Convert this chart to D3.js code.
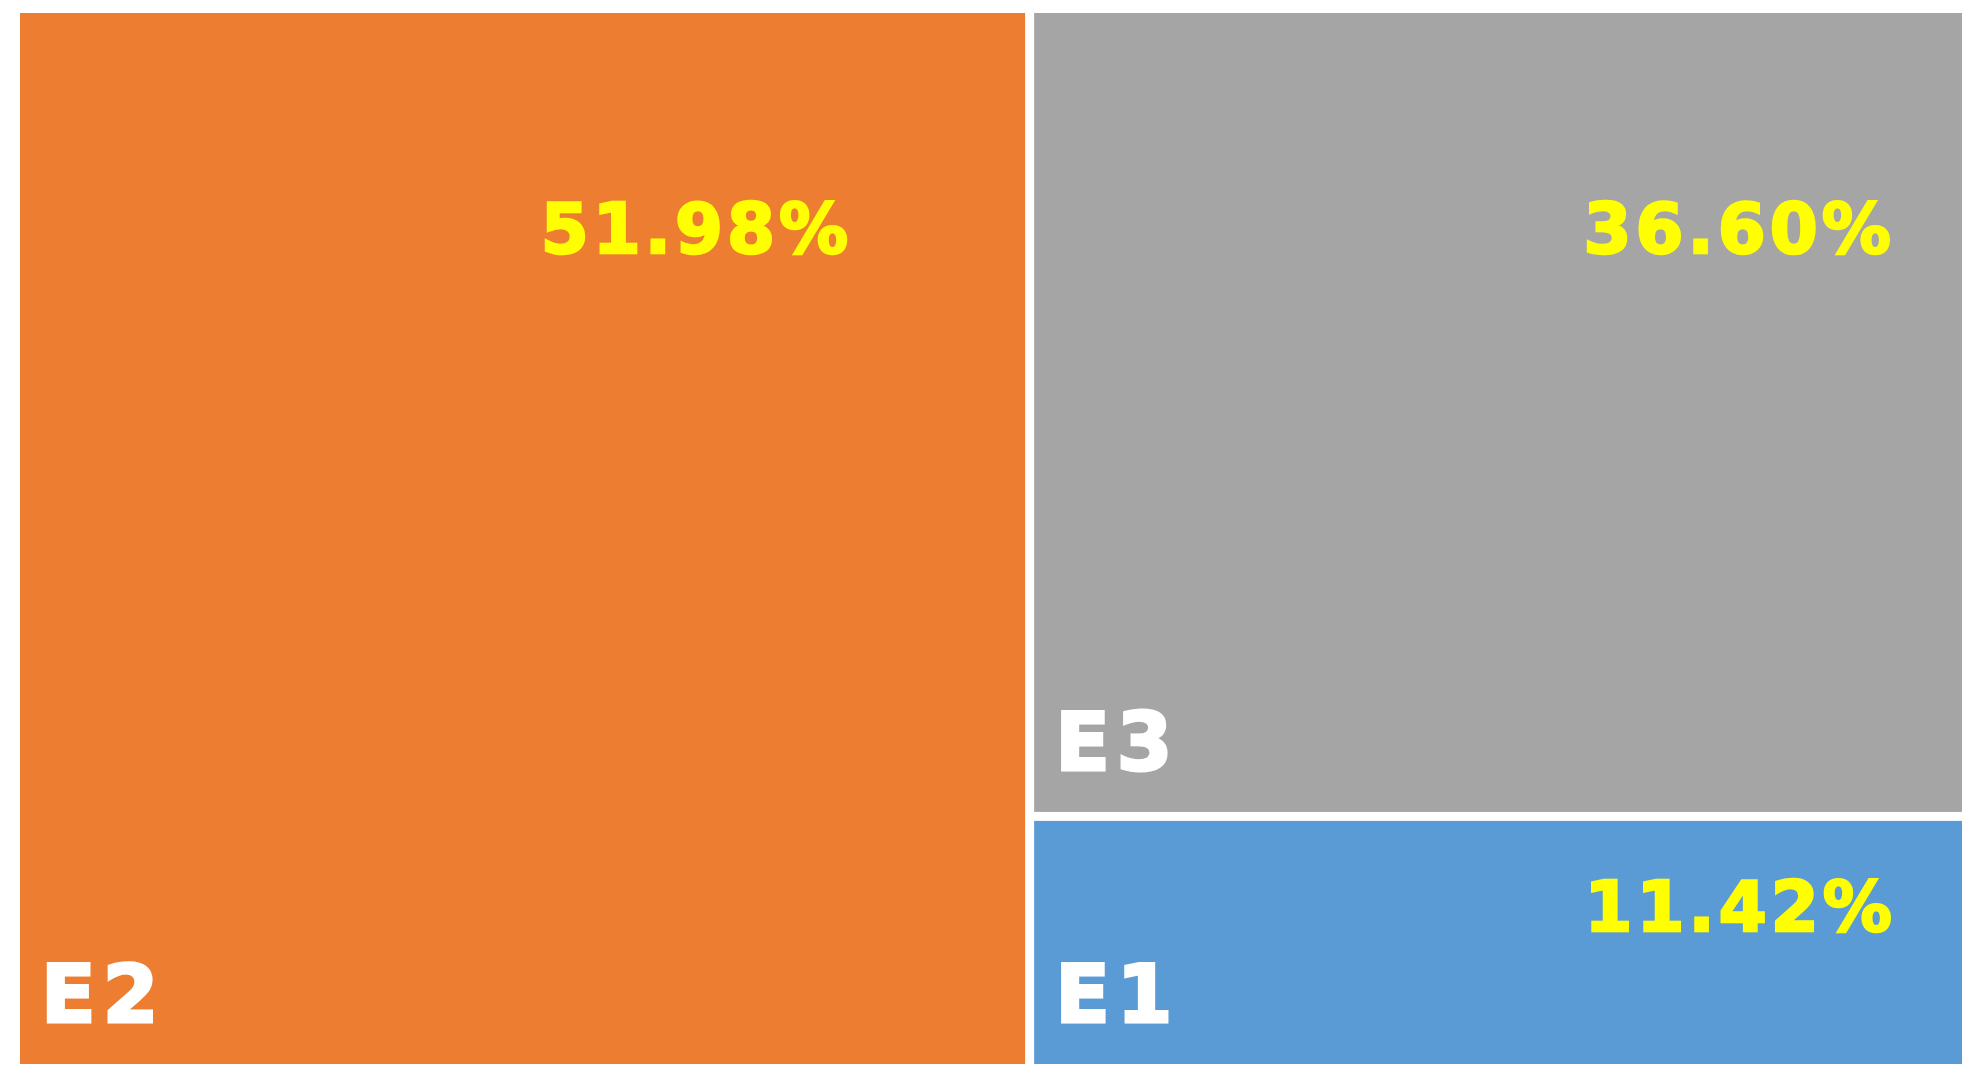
<!DOCTYPE html>
<html>
<head>
<meta charset="utf-8">
<script src="https://cdn.jsdelivr.net/npm/d3@7"></script>
<style>
  html, body { margin: 0; padding: 0; background: #fff; }
  .name { fill: #fff; stroke: #fff; stroke-width: 3px; stroke-linejoin: miter; font-family: "DejaVu Sans", sans-serif; font-weight: bold; }
  .pct { fill: #ffff00; stroke: #ffff00; stroke-width: 2.5px; stroke-linejoin: miter; font-family: "DejaVu Sans", sans-serif; font-weight: bold; }
</style>
</head>
<body>
<svg id="chart"></svg>
<script>
var names = ["E2", "E3", "E1"];
var shares = [51.98, 36.60, 11.42];
var colors = ["#ED7D31", "#A5A5A5", "#5B9BD5"];

var width = 1977, height = 1080,
  margin = {top: 13, right: 15, bottom: 16, left: 20},
  w = width - margin.left - margin.right,
  h = height - margin.top - margin.bottom;

var svg = d3.select("#chart")
  .attr("width", width)
  .attr("height", height);

var g = svg.append("g")
  .attr("transform", "translate(" + margin.left + "," + margin.top + ")");

var root = d3.hierarchy({children: names.map(function(n, i) {
    return {name: n, value: shares[i], color: colors[i]};
  })})
  .sum(function(d) { return d.value || 0; });

d3.treemap()
  .tile(d3.treemapBinary)
  .size([w, h])
  .paddingInner(9)(root);

// where the value label sits inside each cell (right edge inset, baseline from top)
var pctPlace = {E2: {right: 177, top: 240}, E3: {right: 71, top: 240}, E1: {right: 70, top: 110}};

var cell = g.selectAll("g.cell")
  .data(root.leaves())
  .enter().append("g")
  .attr("class", "cell")
  .attr("transform", function(d) { return "translate(" + d.x0 + "," + d.y0 + ")"; });

cell.append("rect")
  .attr("width", function(d) { return d.x1 - d.x0; })
  .attr("height", function(d) { return d.y1 - d.y0; })
  .attr("fill", function(d) { return d.data.color; });

cell.append("text")
  .attr("class", "name")
  .attr("x", 21)
  .attr("y", function(d) { return d.y1 - d.y0 - 42; })
  .style("font-size", "80px")
  .style("letter-spacing", "7px")
  .text(function(d) { return d.data.name; });

cell.append("text")
  .attr("class", "pct")
  .attr("text-anchor", "end")
  .attr("x", function(d) { return d.x1 - d.x0 - pctPlace[d.data.name].right + 4; })
  .attr("y", function(d) { return pctPlace[d.data.name].top; })
  .style("font-size", "69px")
  .style("letter-spacing", "4px")
  .text(function(d) { return d3.format(".2f")(d.data.value) + "%"; });
</script>
</body>
</html>
